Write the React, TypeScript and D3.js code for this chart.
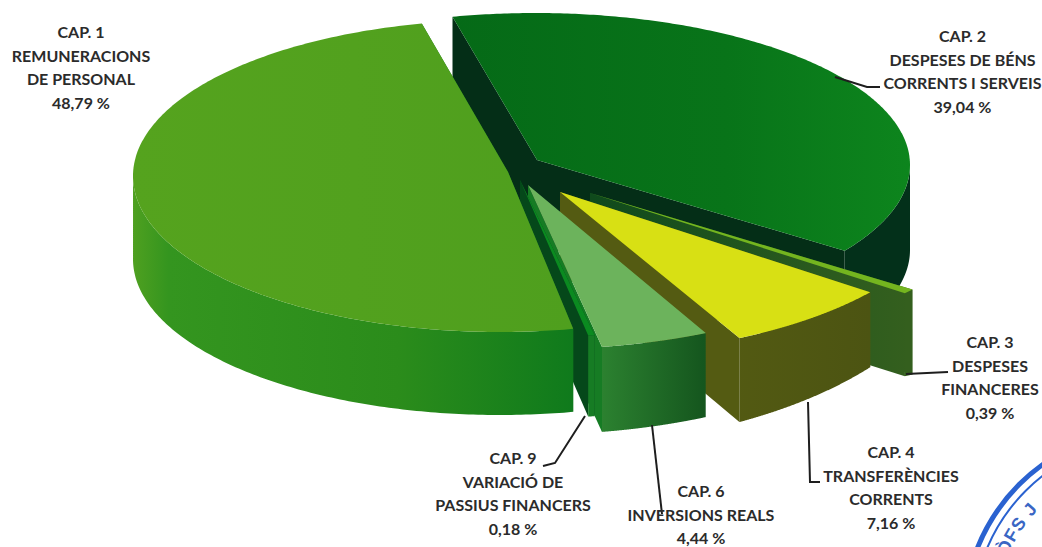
import React from "react";
import * as d3 from "d3";

// ---- data ----
const chapters = ["CAP. 1", "CAP. 2", "CAP. 3", "CAP. 4", "CAP. 6", "CAP. 9"];
const shares = [48.79, 39.04, 0.39, 7.16, 4.44, 0.18];
const shareLabels = ["48,79 %", "39,04 %", "0,39 %", "7,16 %", "4,44 %", "0,18 %"];
const descriptions = [
  ["REMUNERACIONS", "DE PERSONAL"],
  ["DESPESES DE BÉNS", "CORRENTS I SERVEIS"],
  ["DESPESES", "FINANCERES"],
  ["TRANSFERÈNCIES", "CORRENTS"],
  ["INVERSIONS REALS"],
  ["VARIACIÓ DE", "PASSIUS FINANCERS"],
];

// ---- layout (per slice, same order as the data) ----
const W = 1042, H = 547;
const START_DEG = 171.65;
const centerX = [500, 535, 617, 581, 541, 536];
const centerY = [176, 165, 199, 184, 179, 190];
const radiusX = [367, 375, 375, 375, 390, 375];
const radiusY = [156, 152, 147, 170, 170, 147];
const apexX = [508, 537, 590, 560, 528, 520];
const apexY = [172, 160, 193, 192, 185, 180];
const depthStart = [83, 85, 85, 75, 84, 81];
const depthEnd = [83, 85, 83, 84, 85, 81];
const adjStart = [-3.15, 0, 0.2, 0.3, 0, 0];
const adjEnd = [0.4, -3.5, 0.6, 0, 0, 0.35];
const CAP6 = 4, CAP9 = 5;
const paintOrder = [1, 2, 3, CAP9, CAP6, 0];

const topFill = ["url(#top0)", "url(#top1)", "#74b51f", "#d8e014", "#6cb35c", "#0b8a20"];
const cutFill = ["#107a1c", "#042e17", "url(#cut2)", "#545b12", "#167c24", "#05481a"];
const wallStops: [number, string][][] = [
  [[0, "#4fa020"], [0.08, "#34951f"], [0.6, "#2b8c1b"], [1, "#0f7a1c"]],
  [[0, "#03301a"], [1, "#03301a"]],
  [[0, "#345f1e"], [1, "#345f1e"]],
  [[0, "#545b12"], [1, "#4c5412"]],
  [[0, "#2c8230"], [1, "#15561e"]],
  [[0, "#167c24"], [1, "#167c24"]],
];
const wallSpan: [number, number][] = [[133, 575], [700, 912], [860, 912], [705, 870], [600, 704], [570, 592]];

const labelX = [81, 962.5, 990, 891, 701, 513];
const labelY = [38, 42, 348, 458, 497, 464];
const labelStep = 23.5;
const labelFill = "#2b2b2b";
const leaders: [number, number][][] = [
  [],
  [[835, 77], [867, 87], [880, 87]],
  [[906, 374], [948, 372]],
  [[808, 402], [810, 482], [820, 482]],
  [[652, 425], [662, 514]],
  [[585, 416], [555, 463], [543, 466]],
];

// ---- stamp in the corner ----
const stampCenter: [number, number] = [1153, 618];
const stampRadii = [189, 180];
const stampWidths = [5, 2];
const stampText = "ÒFS J";

const rad = (d: number) => (d * Math.PI) / 180;

export default function App() {
  const pie = d3
    .pie<number>()
    .sort(null)
    .startAngle(rad(START_DEG))
    .endAngle(rad(START_DEG + 360));
  const arcs = pie(shares);
  const line = d3.line();

  const slices = arcs.map((a, i) => {
    const a0 = a.startAngle + rad(adjStart[i]);
    const a1 = a.endAngle + rad(adjEnd[i]);
    const pt = (t: number): [number, number] => [
      centerX[i] + radiusX[i] * Math.sin(t),
      centerY[i] - radiusY[i] * Math.cos(t),
    ];
    const depth = d3.scaleLinear().domain([a0, a1]).range([depthStart[i], depthEnd[i]]);
    const low = (t: number): [number, number] => {
      const [x, y] = pt(t);
      return [x, y + depth(t)];
    };
    const steps = d3.range(0, 241).map((k) => a0 + ((a1 - a0) * k) / 240);
    const front = steps.filter((t) => Math.cos(t) <= 0);
    const upper = steps.map(pt);
    const apex: [number, number] = [apexX[i], apexY[i]];
    const apexLow: [number, number] = [apexX[i], apexY[i] + (depthStart[i] + depthEnd[i]) / 2];
    return {
      top: line([apex, ...upper])! + "Z",
      wall: line([...front.map(pt), ...front.slice().reverse().map(low)])! + "Z",
      cutA: line([apex, pt(a0), low(a0), apexLow])! + "Z",
      cutB: line([apex, pt(a1), low(a1), apexLow])! + "Z",
    };
  });

  const leaderLine = d3.line();
  const [sx, sy] = stampCenter;
  const tr = 158;
  const textArc = `M${sx + tr * Math.cos(rad(160))},${sy - tr * Math.sin(rad(160))} A${tr},${tr} 0 0 1 ${
    sx + tr * Math.cos(rad(100))
  },${sy - tr * Math.sin(rad(100))}`;

  return (
    <svg
      width={W}
      height={H}
      viewBox={`0 0 ${W} ${H}`}
      style={{ position: "absolute", left: 0, top: 0, display: "block", background: "#fff" }}
    >
      <defs>
        <linearGradient id="top0" gradientUnits="userSpaceOnUse" x1={133} x2={575} y1={0} y2={0}>
          <stop offset="0" stopColor="#55a31e" />
          <stop offset="1" stopColor="#4f9f1e" />
        </linearGradient>
        <linearGradient id="top1" gradientUnits="userSpaceOnUse" x1={450} x2={910} y1={0} y2={0}>
          <stop offset="0" stopColor="#056a17" />
          <stop offset="0.6" stopColor="#087419" />
          <stop offset="1" stopColor="#0d851d" />
        </linearGradient>
        <linearGradient id="cut2" gradientUnits="userSpaceOnUse" x1={593} x2={910} y1={0} y2={0}>
          <stop offset="0" stopColor="#0f4a1c" />
          <stop offset="0.7" stopColor="#2a5a1e" />
          <stop offset="1" stopColor="#345f1e" />
        </linearGradient>
        {wallStops.map((stops, i) => (
          <linearGradient
            key={i}
            id={`wall${i}`}
            gradientUnits="userSpaceOnUse"
            x1={wallSpan[i][0]}
            x2={wallSpan[i][1]}
            y1={0}
            y2={0}
          >
            {stops.map(([o, c], k) => (
              <stop key={k} offset={o} stopColor={c} />
            ))}
          </linearGradient>
        ))}
        <path id="stampPath" d={textArc} />
      </defs>

      {/* stamp */}
      {stampRadii.map((r, i) => (
        <circle key={i} cx={sx} cy={sy} r={r} fill="none" stroke="#2a62d0" strokeWidth={stampWidths[i]} />
      ))}
      <text fontFamily="Liberation Sans, sans-serif" fontWeight={700} fontSize={18} fill="#3a66c4" letterSpacing={1}>
        <textPath href="#stampPath" startOffset={8}>
          {stampText}
        </textPath>
      </text>

      {/* slices, back to front; cap 6's cut face lies under cap 9 */}
      {paintOrder.map((i) => (
        <g key={chapters[i]}>
          {i === CAP9 && <path d={slices[CAP6].cutB} fill={cutFill[CAP6]} />}
          {i !== CAP6 && <path d={slices[i].cutA} fill={cutFill[i]} />}
          {i !== CAP6 && <path d={slices[i].cutB} fill={cutFill[i]} />}
          <path d={slices[i].wall} fill={`url(#wall${i})`} />
          <path d={slices[i].top} fill={topFill[i]} />
        </g>
      ))}

      {/* leader lines */}
      {leaders.map((pts, i) =>
        pts.length ? (
          <path key={i} d={leaderLine(pts)!} fill="none" stroke="#1e1e1e" strokeWidth={2} />
        ) : null
      )}

      {/* labels */}
      {chapters.map((c, i) => {
        const lines = [c, ...descriptions[i], shareLabels[i]];
        return (
          <text
            key={c}
            textAnchor="middle"
            fontFamily="Lato, sans-serif"
            fontWeight={700}
            fontSize={16}
            fill={labelFill}
          >
            {lines.map((l, k) => (
              <tspan key={k} x={labelX[i]} y={labelY[i] + k * labelStep}>
                {l}
              </tspan>
            ))}
          </text>
        );
      })}
    </svg>
  );
}
